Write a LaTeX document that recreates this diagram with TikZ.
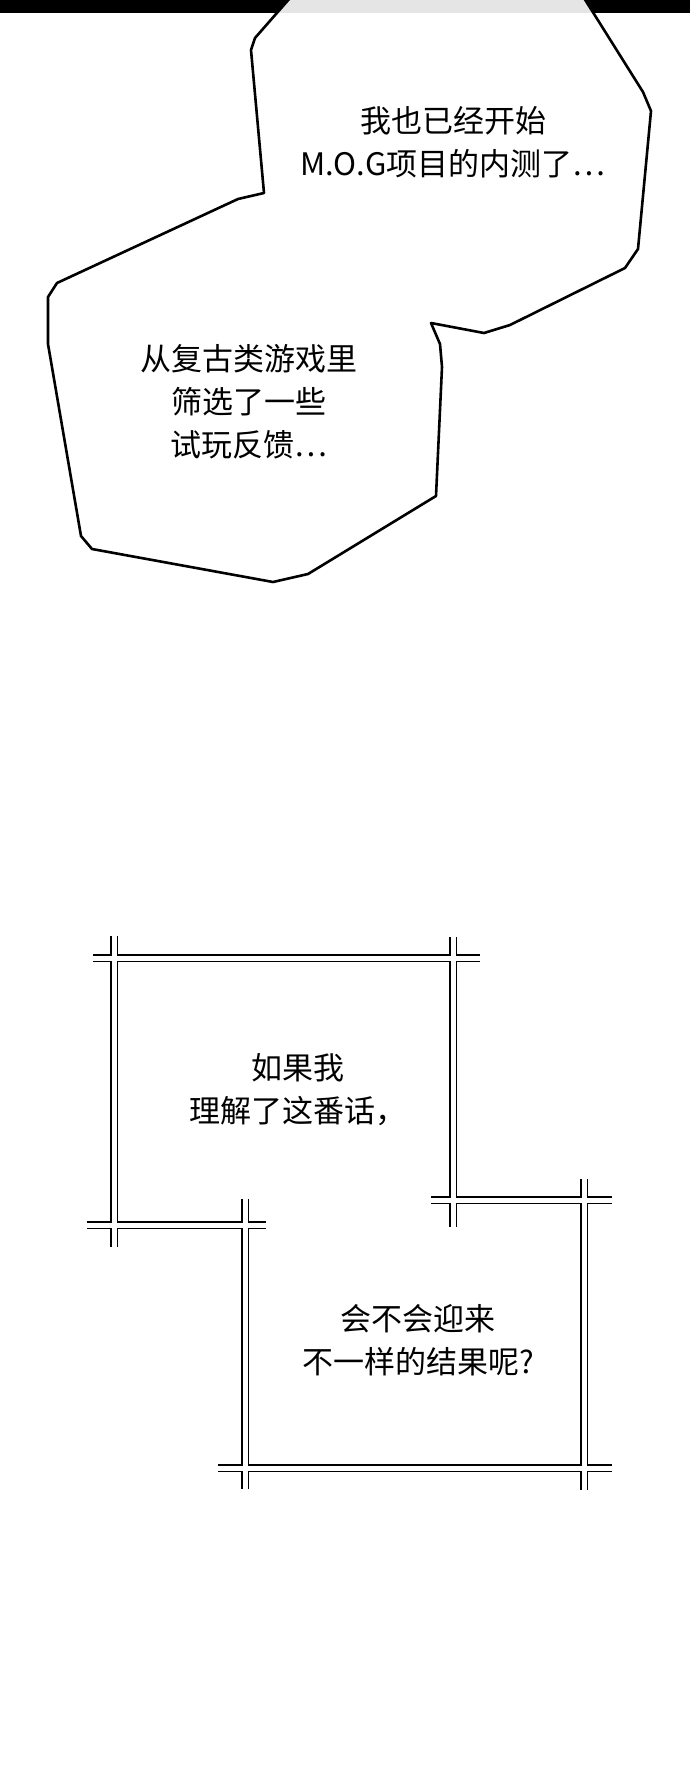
\documentclass[tikz,border=0pt]{standalone}
\usepackage{fontspec}
\newfontfamily\cjk{Noto Sans CJK SC}
\begin{document}
\begin{tikzpicture}[x=1pt,y=-1pt]
    \tikzstyle{speech}=[font=\cjk\fontsize{31}{43}\selectfont, align=center, inner sep=0pt];
    \tikzstyle{barout}=[line width=8pt, black];
    \tikzstyle{barin}=[line width=5pt, white];
    \useasboundingbox (0,0) rectangle (690,1765);
    \fill[white] (0,0) rectangle (690,1765);
    % top band
    \fill[black] (0,0) rectangle (690,13);
    \def\bubble{(290,-2) -- (255,38) -- (251,50) -- (264,193) -- (238,199) -- (57,283) -- (48,297) -- (48,344) -- (81,536) -- (92,549) -- (273,582) -- (308,574) -- (436,496) -- (442,367) -- (440,344) -- (431,323) -- (484,333) -- (510,325) -- (625,268) -- (638,249) -- (651,111) -- (643,92) -- (584,-2)}
    \fill[white] \bubble -- cycle;
    \begin{scope}
      \clip \bubble -- cycle;
      \fill[gray!20] (0,0) rectangle (690,13);
    \end{scope}
    \draw[line width=2.6pt, line join=round] \bubble;
    \node[speech] (mog) at (453,142) {我也已经开始\\M.O.G项目的内测了…};
    \node[speech] (retro) at (249,402) {从复古类游戏里\\筛选了一些\\试玩反馈…};
    % frames
    \foreach \pass in {barout,barin}{
      \draw[\pass] (93,958) -- (480,958);
      \draw[\pass] (114,936) -- (114,1247);
      \draw[\pass] (87,1225) -- (266,1225);
      \draw[\pass] (453,937) -- (453,1227);
      \draw[\pass] (431,1200) -- (612,1200);
      \draw[\pass] (584,1179) -- (584,1490);
      \draw[\pass] (218,1468) -- (612,1468);
      \draw[\pass] (245,1199) -- (245,1489);
    }
    \node[speech] (ifi) at (298,1090) {如果我\\理解了这番话，};
    \node[speech] (diff) at (418,1340) {会不会迎来\\不一样的结果呢?};
\end{tikzpicture}
\end{document}
